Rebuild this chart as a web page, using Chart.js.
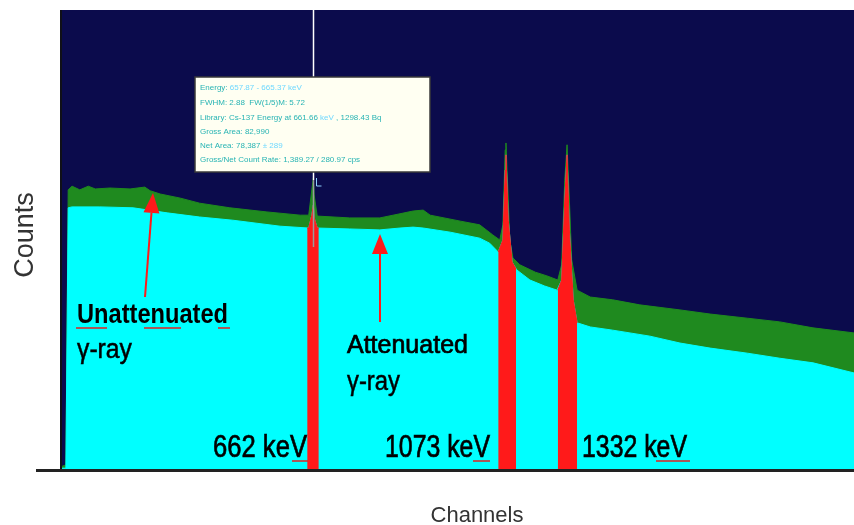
<!DOCTYPE html>
<html>
<head>
<meta charset="utf-8">
<script src="https://cdn.jsdelivr.net/npm/chart.js@4.4.0/dist/chart.umd.min.js"></script>
<style>
  html, body { margin: 0; padding: 0; background: #ffffff; }
  #wrap { width: 854px; height: 525px; }
</style>
</head>
<body>
<div id="wrap"><canvas id="spectrum" width="854" height="525"></canvas></div>
<script>
// Spectrum (channel, counts)
const unattChannels = [0, 5, 8, 13, 23, 34, 43, 62, 88, 107, 114, 127, 153, 178, 217, 265, 308, 319, 323, 325, 326, 330, 372, 411, 437, 454, 467, 476, 515, 540, 557, 566, 570, 573, 574, 577, 579, 583, 592, 612, 627, 641, 646, 650, 653, 656, 659, 666, 683, 712, 747, 799, 838, 886, 928, 971, 1024];
const unattCounts = [8, 11, 609, 617, 609, 617, 611, 613, 611, 615, 607, 600, 591, 580, 570, 561, 554, 554, 609, 635, 598, 552, 548, 548, 557, 563, 565, 554, 541, 533, 511, 500, 533, 696, 711, 587, 500, 461, 446, 430, 422, 413, 446, 630, 707, 587, 457, 391, 376, 370, 359, 348, 339, 330, 322, 309, 298];

const attChannels = [0, 5, 8, 13, 49, 92, 136, 178, 221, 282, 319, 323, 325, 326, 330, 372, 411, 437, 454, 467, 502, 540, 553, 564, 570, 573, 574, 577, 582, 588, 605, 624, 640, 646, 650, 653, 656, 661, 666, 683, 712, 760, 799, 838, 886, 928, 971, 1024];
const attCounts = [4, 4, 570, 572, 572, 570, 559, 550, 543, 530, 526, 554, 576, 548, 526, 524, 522, 526, 528, 526, 517, 504, 493, 474, 500, 652, 685, 543, 452, 435, 413, 400, 391, 413, 587, 685, 522, 370, 320, 311, 304, 291, 276, 265, 254, 243, 233, 211];

// Regions of interest (red)
const roi662Channels = [317, 319, 323, 325, 326, 330, 332];
const roi662Counts = [526, 526, 554, 576, 548, 526, 526];
const roi1073Channels = [564, 570, 573, 574, 577, 582, 587];
const roi1073Counts = [474, 500, 652, 685, 543, 452, 437];
const roi1332Channels = [641, 646, 650, 653, 656, 661, 666];
const roi1332Counts = [391, 413, 587, 685, 522, 370, 320];

const cursorChannel = 325;
const peakLabels = ['662 keV', '1073 keV', '1332 keV'];

const infoLines = [
  ['Energy: ', '657.87 - 665.37 keV'],
  ['FWHM: 2.88  FW(1/5)M: 5.72', ''],
  ['Library: Cs-137 Energy at 661.66 ', 'keV', ' , 1298.43 Bq'],
  ['Gross Area: 82,990', ''],
  ['Net Area: 78,387 ', '± 289'],
  ['Gross/Net Count Rate: 1,389.27 / 280.97 cps', '']
];

function pts(xs, ys) {
  return xs.map((x, i) => ({ x: x, y: ys[i] }));
}

const NAVY = '#0b0b4c';
const GREEN = '#1f8a1f';
const CYAN = '#00ffff';
const RED = '#ff1a1a';

function roiSet(xs, ys) {
  return {
    data: pts(xs, ys),
    borderColor: RED,
    backgroundColor: RED,
    borderWidth: 1,
    pointRadius: 0,
    fill: 'origin',
    tension: 0,
    order: 0
  };
}

// background, axes, cursor, info box and labels
const decor = {
  id: 'decor',
  beforeDraw(chart) {
    const { ctx, chartArea: a } = chart;
    ctx.save();
    ctx.fillStyle = NAVY;
    ctx.fillRect(a.left, a.top, a.right - a.left, a.bottom - a.top);
    ctx.restore();
  },
  afterDraw(chart) {
    const { ctx, chartArea: a, scales } = chart;
    const xs = scales.x;
    ctx.save();

    // cursor line
    const cx = Math.round(xs.getPixelForValue(cursorChannel)) + 0.5;
    ctx.strokeStyle = '#ffffff';
    ctx.lineWidth = 1.5;
    ctx.beginPath();
    ctx.moveTo(cx, 0);
    ctx.lineTo(cx, 180);
    ctx.stroke();
    ctx.strokeStyle = '#9a9a9a';
    ctx.beginPath();
    ctx.moveTo(cx, 180);
    ctx.lineTo(cx, 247);
    ctx.stroke();
    ctx.strokeStyle = '#8fd0ff';
    ctx.lineWidth = 1;
    ctx.beginPath();
    ctx.moveTo(cx + 3, 178);
    ctx.lineTo(cx + 3, 186);
    ctx.lineTo(cx + 8, 186);
    ctx.stroke();

    // axis lines
    ctx.fillStyle = '#101018';
    ctx.fillRect(a.left - 2, a.top, 2, a.bottom - a.top);
    ctx.fillStyle = '#222222';
    ctx.fillRect(36, a.bottom - 1, 854 - 36, 3);

    // info box
    ctx.fillStyle = '#fffff2';
    ctx.fillRect(195, 77, 235, 95);
    ctx.strokeStyle = '#3a3a3a';
    ctx.lineWidth = 1.5;
    ctx.strokeRect(195, 77, 235, 95);
    ctx.font = '8px "Liberation Sans Narrow", "Liberation Sans", Arial, sans-serif';
    ctx.textBaseline = 'middle';
    const lineYs = [88, 103, 118, 132, 146, 160];
    infoLines.forEach((parts, i) => {
      let x = 200;
      parts.forEach((p, j) => {
        if (!p) return;
        ctx.fillStyle = j === 1 ? '#6fd8ff' : '#28b4b4';
        ctx.fillText(p, x, lineYs[i]);
        x += ctx.measureText(p).width;
      });
    });

    // arrows
    function arrow(x0, y0, x1, y1) {
      const ang = Math.atan2(y1 - y0, x1 - x0);
      const hl = 20, hw = 8;
      const bx = x1 - hl * Math.cos(ang), by = y1 - hl * Math.sin(ang);
      ctx.strokeStyle = RED;
      ctx.lineWidth = 2;
      ctx.beginPath();
      ctx.moveTo(x0, y0);
      ctx.lineTo(bx, by);
      ctx.stroke();
      ctx.fillStyle = RED;
      ctx.beginPath();
      ctx.moveTo(x1, y1);
      ctx.lineTo(bx + hw * Math.sin(ang), by - hw * Math.cos(ang));
      ctx.lineTo(bx - hw * Math.sin(ang), by + hw * Math.cos(ang));
      ctx.closePath();
      ctx.fill();
    }
    arrow(145, 297, 153, 193);
    arrow(380, 322, 380, 234);

    // labels (condensed, like the screenshot)
    const fam = '"Liberation Sans", Arial, sans-serif';
    function label(text, x, y, font, w, thick) {
      ctx.font = font + ' ' + fam;
      ctx.fillText(text, x, y, w);
      if (thick) {
        ctx.lineWidth = thick;
        ctx.strokeText(text, x, y, w);
      }
    }
    ctx.textBaseline = 'alphabetic';
    ctx.textAlign = 'left';
    ctx.fillStyle = '#000000';
    ctx.strokeStyle = '#000000';
    label('Unattenuated', 77, 323, 'bold 28px', 151, 0);
    label('γ-ray', 77, 358, '27px', 55, 0.5);
    label('Attenuated', 347, 353, '25px', 121, 0.7);
    label('γ-ray', 347, 390, '27px', 53, 0.5);

    const peakPos = [[213, 94], [385, 105], [582, 105]];
    peakLabels.forEach((t, i) => {
      label(t, peakPos[i][0], 457, '31px', peakPos[i][1], 0.7);
    });

    // red squiggles (spell check marks)
    ctx.strokeStyle = '#e02020';
    ctx.lineWidth = 1.5;
    [[76, 107, 328], [144, 181, 328], [218, 230, 328], [292, 308, 461], [473, 490, 461], [656, 690, 461]].forEach(s => {
      ctx.beginPath();
      ctx.moveTo(s[0], s[2]);
      ctx.lineTo(s[1], s[2]);
      ctx.stroke();
    });

    // axis titles
    ctx.fillStyle = '#333333';
    ctx.font = '22px ' + fam;
    ctx.textAlign = 'center';
    ctx.fillText('Channels', 477, 522, 95);
    ctx.translate(33, 235);
    ctx.rotate(-Math.PI / 2);
    ctx.font = '27px ' + fam;
    ctx.fillText('Counts', 0, 0);
    ctx.restore();
  }
};

new Chart(document.getElementById('spectrum'), {
  type: 'line',
  data: {
    datasets: [
      roiSet(roi662Channels, roi662Counts),
      roiSet(roi1073Channels, roi1073Counts),
      roiSet(roi1332Channels, roi1332Counts),
      {
        label: 'Attenuated',
        data: pts(attChannels, attCounts),
        borderColor: CYAN,
        backgroundColor: CYAN,
        borderWidth: 1,
        pointRadius: 0,
        fill: 'origin',
        tension: 0,
        order: 1
      },
      {
        label: 'Unattenuated',
        data: pts(unattChannels, unattCounts),
        borderColor: GREEN,
        backgroundColor: GREEN,
        borderWidth: 1,
        pointRadius: 0,
        fill: 'origin',
        tension: 0,
        order: 2
      }
    ]
  },
  options: {
    responsive: false,
    animation: false,
    events: [],
    layout: { padding: { left: 62, right: 0, top: 10, bottom: 55 } },
    plugins: { legend: { display: false }, tooltip: { enabled: false } },
    scales: {
      x: { type: 'linear', min: 0, max: 1024, display: false },
      y: { min: 0, max: 1000, display: false }
    }
  },
  plugins: [decor]
});
</script>
</body>
</html>
